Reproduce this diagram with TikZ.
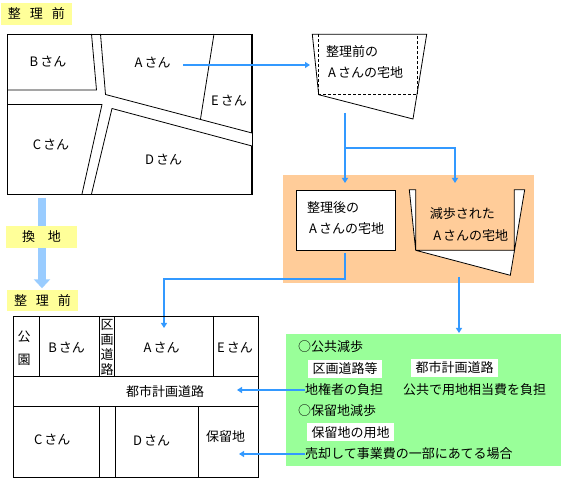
\documentclass[tikz,border=0pt]{standalone}
\usepackage{fontspec}
\setmainfont{Noto Sans CJK JP}
\usetikzlibrary{arrows.meta}
\definecolor{flowblue}{HTML}{3399FF}
\definecolor{wideblue}{HTML}{99CCFF}
\definecolor{labelyellow}{HTML}{FFFF99}
\definecolor{areaorange}{HTML}{FFCC99}
\definecolor{areagreen}{HTML}{99FF99}
\newcommand{\owner}[1]{#1\hspace{2pt}さん}
\tikzset{
    every node/.style={inner sep=0pt, font=\fontsize{13}{15}\selectfont},
    lot/.style={line width=0.8pt},
    flow/.style={flowblue, line width=1.8pt, -{Triangle[length=5pt, width=6pt]}},
    wide/.style={wideblue, line width=8pt},
    banner/.style={fill=labelyellow, minimum height=22pt},
    whitebox/.style={fill=white, minimum height=18pt}
}
\begin{document}
\begin{tikzpicture}[x=1pt, y=-1pt]
    \useasboundingbox (0,0) rectangle (566,481);

    % 背景
    \fill[areaorange] (283,175) rectangle (534,283);
    \fill[areagreen] (286,334) rectangle (561,466);

    % 标题
    \node[banner, minimum width=71pt] (before) at (36.5,14) {整\hspace{9pt}理\hspace{9pt}前};
    \node[banner, minimum width=71pt] (kanchi) at (41.5,237) {換\hspace{13pt}地};
    \node[banner, minimum width=71pt, minimum height=21pt] (after) at (42.5,301) {整\hspace{9pt}理\hspace{9pt}前};

    % 整理前の地図
    \draw[lot] (7.5,34) rectangle (252,194);
    \draw[line width=1.6pt] (252,34) -- (252,133);
    \draw[line width=1.6pt] (252,146) -- (252,194);
    \draw[lot] (91.5,34) -- (96.5,90) -- (7.5,90);
    \draw[lot] (100.5,34) -- (105.5,94.5) -- (252,133);
    \draw[lot] (214,34) -- (200.5,119);
    \draw[lot] (7.5,104.5) -- (102,104.5) -- (82,194);
    \draw[lot] (252,146) -- (112,108.5) -- (91.5,194);
    \foreach \name/\x/\y/\txt in {oldB/48/62/B, oldA/152.7/62.7/A, oldE/229/100.7/E, oldC/51/145/C, oldD/163.7/160/D} {
        \node (\name) at (\x,\y) {\owner{\txt}};
    }
    \coordinate (oldStart) at (183,65);

    % Aさんの宅地
    \draw[lot] (312.3,34.3) -- (426.7,34.3) -- (413,119) -- (318.7,94.7) -- cycle;
    \draw[lot, dash pattern=on 3pt off 2pt] (318.7,34.3) -- (318.7,94.7) -- (417.7,94.7) -- (417.7,34.3);
    \node (lotTop) at (352,51.7) {整理前の};
    \node (lotBottom) at (365.7,73) {\owner{A}の宅地};
    \coordinate (lotIn) at (310,65);
    \coordinate (lotOut) at (345,113);

    % 整理後の宅地
    \node[draw, fill=white, line width=0.8pt, minimum width=99pt, minimum height=60pt] (newLot) at (346,220.3) {};
    \node (newTop) at (333,208) {整理後の};
    \node (newBottom) at (346.7,229) {\owner{A}の宅地};

    % 減歩
    \draw[lot, fill=white] (409.3,189.7) -- (415.7,189.7) -- (415.7,250.3) -- (514.3,250.3) -- (514.3,189.7) -- (524.7,189.7) -- (510.3,275.3) -- (415.7,250.3) -- cycle;
    \node (cutTop) at (462.3,214) {減歩された};
    \node (cutBottom) at (470.7,236) {\owner{A}の宅地};

    % 连接
    \coordinate (split) at (345,148);
    \coordinate (newIn) at (345,183);
    \coordinate (cutIn) at (455,183);
    \coordinate (cutOut) at (459,277);
    \coordinate (noteIn) at (459,333);
    \coordinate (newOut) at (345,253);
    \coordinate (bend) at (345,279);
    \coordinate (planIn) at (164,328);
    \draw[flow] (oldStart) -- (lotIn);
    \draw[flow] (lotOut) -- (newIn);
    \draw[flow] (split) -| (cutIn);
    \draw[flow] (newOut) -- (bend) -| (planIn);
    \draw[flow] (cutOut) -- (noteIn);

    % 太い矢印
    \coordinate (wideStart) at (42,198);
    \draw[wide] (wideStart) -- (wideStart |- kanchi.north);
    \draw[wide, -{Triangle[length=9pt, width=16pt]}, shorten >=2pt] (wideStart |- kanchi.south) -- (wideStart |- after.north);

    % 整理後の地図
    \draw[lot] (13.5,316.7) rectangle (258.5,477);
    \draw[lot] (13.5,376) -- (258.5,376);
    \draw[lot] (13.5,406.3) -- (258.5,406.3);
    \foreach \x in {39.5, 99.5, 114.5, 213.5} {
        \draw[lot] (\x,316.7) -- (\x,376);
    }
    \foreach \x in {99.5, 115.5, 198.5} {
        \draw[lot] (\x,406.3) -- (\x,477);
    }
    \foreach \name/\x/\y/\txt in {newB/66.7/347.7/B, newA/161.7/348/A, newE/235/348/E, newC/52.3/440/C, newD/151.7/441/D} {
        \node (\name) at (\x,\y) {\owner{\txt}};
    }
    \node (park1) at (24,337) {公};
    \node (park2) at (24,360) {園};
    \foreach \name/\y/\txt in {ward1/325/区, ward2/339.5/画, ward3/354.5/道, ward4/370/路} {
        \node (\name) at (107,\y) {\txt};
    }
    \node (cityRoad) at (165,391.7) {都市計画道路};
    \node (reserve) at (225.7,436.7) {保留地};

    % 説明
    \node[whitebox, minimum width=74pt] (wardBox) at (345,368.8) {区画道路等};
    \node[whitebox, minimum width=87pt] (cityBox) at (454.5,368) {都市計画道路};
    \node[whitebox, minimum width=87pt] (reserveBox) at (350.5,432.5) {保留地の用地};
    \node[anchor=west] (publicCut) at (298,346.7) {○公共減歩};
    \node[anchor=west] (burden) at (305,390) {地権者の負担};
    \node[anchor=west] (publicPay) at (403,390) {公共で用地相当費を負担};
    \node[anchor=west] (reserveCut) at (298,410.7) {○保留地減歩};
    \node[anchor=west] (sale) at (305,454) {売却して事業費の一部にあてる場合};
    \coordinate (roadIn) at (237,390);
    \coordinate (reserveIn) at (239,454);
    \draw[flow] (burden) -- (roadIn);
    \draw[flow] (sale) -- (reserveIn);
\end{tikzpicture}
\end{document}
